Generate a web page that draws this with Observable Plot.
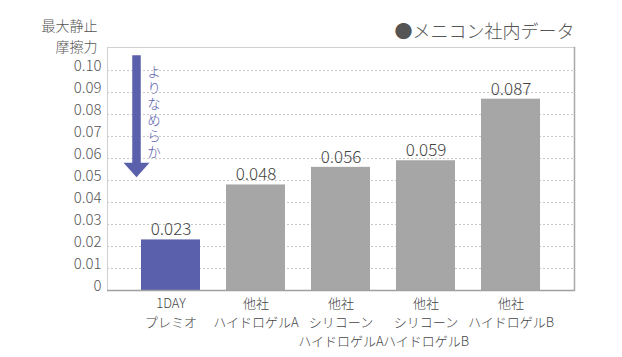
<!DOCTYPE html>
<html>
<head>
<meta charset="utf-8">
<script src="https://cdn.jsdelivr.net/npm/d3@7"></script>
<script src="https://cdn.jsdelivr.net/npm/@observablehq/plot@0.6"></script>
<style>
  html, body { margin: 0; padding: 0; background: #fff; }
  #chart svg { display: block; }
  #chart svg text { font-weight: 300; }
</style>
</head>
<body>
<div id="chart"></div>
<script>
const categories = ["1DAY\nプレミオ", "他社\nハイドロゲルA", "他社\nシリコーン\nハイドロゲルA", "他社\nシリコーン\nハイドロゲルB", "他社\nハイドロゲルB"];
const values = [0.023, 0.048, 0.056, 0.059, 0.087];
const yTicks = [0, 0.01, 0.02, 0.03, 0.04, 0.05, 0.06, 0.07, 0.08, 0.09, 0.10];
const yTitleLines = ["最大静止", "摩擦力"];
const legendText = "●メニコン社内データ";
const arrowText = "よりなめらか";
const arrowShaft = [{x: categories[0], y1: 0.1068, y2: 0.0577}];
const arrowHead = [{x: categories[0], y: 0.0548}];
const arrowLabel = [{x: categories[0], y: 0.0825, text: arrowText}];

const data = categories.map((c, i) => ({cat: c, value: values[i], highlight: i === 0}));

const blue = "#5a60ab";
const gray = "#a6a6a6";
const font = "'Noto Sans CJK JP', 'Noto Sans', sans-serif";

const headSymbol = {
  draw(ctx) {
    ctx.moveTo(-13, -7.25);
    ctx.lineTo(13, -7.25);
    ctx.lineTo(0, 7.25);
    ctx.closePath();
  }
};

const chart = Plot.plot({
  width: 622,
  height: 357,
  marginLeft: 107,
  marginRight: 48,
  marginTop: 47,
  marginBottom: 67,
  style: {fontFamily: font, background: "#fff"},
  x: {domain: categories, paddingInner: 0.3, paddingOuter: 0.39, label: null},
  y: {domain: [0, 0.1105], label: null},
  marks: [
    Plot.gridY(yTicks.filter(d => d > 0), {stroke: "#c8c8c8", strokeOpacity: 1, strokeDasharray: "2,2"}),
    Plot.frame({stroke: "#d0d0d0"}),
    Plot.barY(data, {x: "cat", y: "value", fill: d => d.highlight ? blue : gray}),
    Plot.ruleY([0], {stroke: "#a0a0a0", strokeWidth: 1.5}),
    Plot.frame({anchor: "right", stroke: "#a8a8a8", strokeWidth: 1.5}),
    Plot.text(data, {x: "cat", y: "value", text: d => d.value.toFixed(3), dy: -10, fontSize: 17, fill: "#444"}),
    Plot.axisY({ticks: yTicks, tickSize: 0, tickPadding: 6, dy: -4, fontSize: 15, fill: "#555",
      tickFormat: d => d === 0 ? "0" : d.toFixed(2), label: null}),
    Plot.axisX({tickSize: 0, tickPadding: 4, fontSize: 13, fill: "#444", lineHeight: 1.45, label: null}),
    Plot.ruleX(arrowShaft, {x: "x", y1: "y1", y2: "y2", stroke: blue, strokeWidth: 8.5, dx: -34.5}),
    Plot.dot(arrowHead, {x: "x", y: "y", symbol: headSymbol, fill: blue, stroke: null, dx: -34.5}),
    Plot.text(arrowLabel, {x: "x", y: "y", text: "text", dx: -17, fontSize: 13.5, fill: blue, className: "vtext"}),
    Plot.text([yTitleLines[0]], {frameAnchor: "top-left", dx: -10, dy: -26, textAnchor: "end", fontSize: 14, fill: "#555"}),
    Plot.text([yTitleLines[1]], {frameAnchor: "top-left", dx: -10, dy: -5.5, textAnchor: "end", fontSize: 14, fill: "#555"}),
    Plot.text([legendText], {frameAnchor: "top-right", dx: 0, dy: -22, textAnchor: "end", fontSize: 18, fill: "#555"})
  ]
});
// vertical writing for the arrow caption
d3.select(chart).selectAll("g.vtext text")
  .attr("dy", null)
  .style("writing-mode", "vertical-rl")
  .style("letter-spacing", "2.6px")
  .attr("text-anchor", "middle")
  .attr("dominant-baseline", "central");
document.getElementById("chart").appendChild(chart);
</script>
</body>
</html>
